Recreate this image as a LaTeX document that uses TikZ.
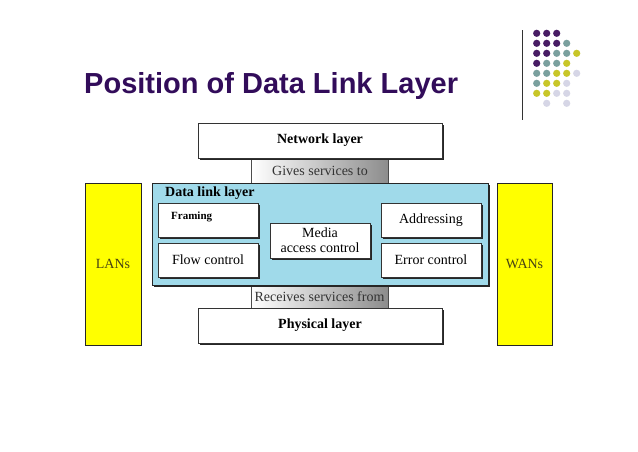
\documentclass[tikz,border=0pt]{standalone}
\usepackage{fontspec}
\setmainfont{Liberation Serif}
\newfontfamily\titlefont{Liberation Sans}
\usetikzlibrary{shadows}

\definecolor{titlepurple}{RGB}{50,12,90}
\definecolor{dotpurple}{RGB}{72,28,100}
\definecolor{dotteal}{RGB}{122,160,158}
\definecolor{dotyellow}{RGB}{200,198,40}
\definecolor{dotlilac}{RGB}{214,214,230}
\definecolor{linkblue}{RGB}{160,218,234}
\definecolor{netyellow}{RGB}{255,255,0}
\definecolor{nettext}{RGB}{70,66,20}

\tikzset{
  shadowed/.style={drop shadow={shadow xshift=2pt, shadow yshift=-2pt, opacity=1, fill=black!85}},
  layerbox/.style={draw=black!80, fill=white, shadowed, minimum width=244pt, minimum height=35pt,
    font=\fontsize{14}{16}\selectfont\bfseries},
  servicebox/.style={draw=black!70, left color=white, right color=black!45, minimum width=137pt,
    minimum height=24pt, font=\fontsize{14}{16}\selectfont, text=black!80},
  funcbox/.style={draw=black!80, fill=white, shadowed, minimum width=100pt, minimum height=34pt,
    font=\fontsize{14}{15}\selectfont, align=center},
  netbox/.style={draw=black!85, fill=netyellow, line width=1pt, minimum width=56pt, minimum height=162pt,
    font=\fontsize{14}{16}\selectfont, text=nettext},
}

\begin{document}
\begin{tikzpicture}[x=1pt, y=-1pt]
        \fill[white] (0,0) rectangle (638,451);
        \useasboundingbox (0,0) rectangle (638,451);

        % Title and corner decoration
        \node[anchor=base west, inner sep=0, text=titlepurple,
              font=\titlefont\bfseries\fontsize{29}{32}\selectfont] at (84,93) (title) {Position of Data Link Layer};
        \draw[black!80, line width=1pt] (522,30) -- (522,120);
        \foreach \c/\r/\col in {1/1/dotpurple, 2/1/dotpurple, 3/1/dotpurple,
                                1/2/dotpurple, 2/2/dotpurple, 3/2/dotpurple, 4/2/dotteal,
                                1/3/dotpurple, 2/3/dotpurple, 3/3/dotteal, 4/3/dotteal, 5/3/dotyellow,
                                1/4/dotpurple, 2/4/dotteal, 3/4/dotteal, 4/4/dotyellow,
                                1/5/dotteal, 2/5/dotteal, 3/5/dotyellow, 4/5/dotyellow, 5/5/dotlilac,
                                1/6/dotteal, 2/6/dotyellow, 3/6/dotyellow, 4/6/dotlilac,
                                1/7/dotyellow, 2/7/dotyellow, 3/7/dotlilac, 4/7/dotlilac,
                                2/8/dotlilac, 4/8/dotlilac}
            \fill[\col] (526.7+10*\c, 23.3+10*\r) circle (3.6pt);

        % Layers above and below
        \node at (320,170.5) (gives) [servicebox, minimum height=25pt] {Gives services to};
        \node at (320,140.5) (network) [layerbox] {Network layer};
        \node at (319.5,296.5) (receives) [servicebox, minimum height=23pt] {Receives services from};

        % Data link layer and its parts
        \node at (320,234) (dll) [draw=black!85, fill=linkblue, shadowed, minimum width=336pt, minimum height=102pt] {};
        \node[anchor=base west, inner sep=0, font=\fontsize{14}{16}\selectfont\bfseries] at (165,196) (dlltitle) {Data link layer};
        \node at (208,220) (framing) [funcbox] {};
        \node[anchor=base west, inner sep=0, font=\fontsize{11}{12}\selectfont\bfseries] at (171,219) (framingtext) {Framing};
        \node at (208,260) (flow) [funcbox] {Flow control};
        \node at (320,240.5) (media) [funcbox, minimum height=35pt] {Media\\access control};
        \node at (431,220) (addressing) [funcbox] {Addressing};
        \node at (431,260) (error) [funcbox] {Error control};

        \node at (320,325.5) (physical) [layerbox] {Physical layer};

        % Networks on both sides
        \node at (113,264) (lans) [netbox] {LANs};
        \node at (524.5,264) (wans) [netbox, minimum width=55pt] {WANs};
    \end{tikzpicture}
\end{document}
